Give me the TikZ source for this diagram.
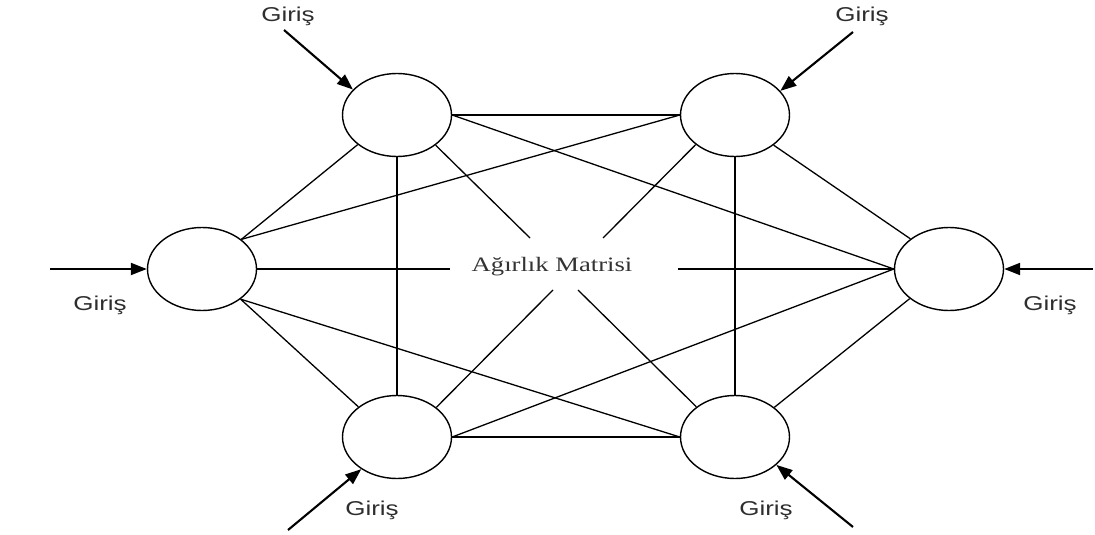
\documentclass[tikz,border=0pt]{standalone}
\usepackage{fontspec}
\setmainfont{Liberation Serif}
\newfontfamily\labelfont{Liberation Sans}
\usetikzlibrary{shapes.geometric,arrows.meta}

\begin{document}
\begin{tikzpicture}[x=1pt,y=-1pt,
  neuron/.style={draw,ellipse,line width=1.4pt,minimum width=109pt,minimum height=83pt,inner sep=0pt},
  link/.style={line width=1.3pt},
  inarrow/.style={line width=2.1pt,-{Triangle[length=16pt,width=12pt]}},
  inlabel/.style={font=\labelfont\fontsize{20}{24}\selectfont,text=black!82,xscale=1.3,anchor=base,inner sep=0pt},
  midlabel/.style={font=\fontsize{20.5}{24}\selectfont,text=black!80,xscale=1.3,anchor=base,inner sep=0pt}]

\useasboundingbox (0,0) rectangle (1095,535);

% neurons
\node[neuron] (TL) at (397,115) {};
\node[neuron] (TR) at (735,115) {};
\node[neuron] (L)  at (202,269) {};
\node[neuron] (R)  at (949,269) {};
\node[neuron] (BL) at (397,437) {};
\node[neuron] (BR) at (735,437) {};

% weight matrix label and the free ends of the links towards it
\node[midlabel] (W) at (552,271) {Ağırlık Matrisi};
\coordinate (wl)  at (450,269);
\coordinate (wr)  at (678,269);
\coordinate (wtl) at (530,238);
\coordinate (wtr) at (603,238);
\coordinate (wbl) at (553,290);
\coordinate (wbr) at (578,290);

% full connections
\draw[link] (TL.east) -- (TR.west);
\draw[link] (TL.east) -- (R.west);
\draw[link] (TR.west) -- (L.37.3);
\draw[link] (TL.217.3) -- (L.37.3);
\draw[link] (TL.south) -- (BL.north);
\draw[link] (TR.south) -- (BR.north);
\draw[link] (TR.322.7) -- (R.142.7);
\draw[link] (L.322.7) -- (BL.142.7);
\draw[link] (L.322.7) -- (BR.west);
\draw[link] (BL.east) -- (BR.west);
\draw[link] (BL.east) -- (R.west);
\draw[link] (BR.37.3) -- (R.217.3);

% links ending at the weight matrix
\draw[link] (L.east) -- (wl);
\draw[link] (wr) -- (R.west);
\draw[link] (TL.322.7) -- (wtl);
\draw[link] (TR.217.3) -- (wtr);
\draw[link] (BL.37.3) -- (wbl);
\draw[link] (BR.142.7) -- (wbr);

% inputs
\coordinate (iTL) at (284,30);
\coordinate (iTR) at (853,32);
\coordinate (iL)  at (50,269);
\coordinate (iR)  at (1093,269);
\coordinate (iBL) at (288,530);
\coordinate (iBR) at (853,527);
\draw[inarrow] (iTL) -- (TL.150);
\draw[inarrow] (iTR) -- (TR.28);
\draw[inarrow] (iL) -- (L.west);
\draw[inarrow] (iR) -- (R.east);
\draw[inarrow] (iBL) -- (BL.222);
\draw[inarrow] (iBR) -- (BR.326);

\node[inlabel] (gTL) at (288,22) {Giriş};
\node[inlabel] (gTR) at (862,22) {Giriş};
\node[inlabel] (gL)  at (100,310) {Giriş};
\node[inlabel] (gR)  at (1050,310) {Giriş};
\node[inlabel] (gBL) at (372,515) {Giriş};
\node[inlabel] (gBR) at (766,515) {Giriş};
\end{tikzpicture}
\end{document}
